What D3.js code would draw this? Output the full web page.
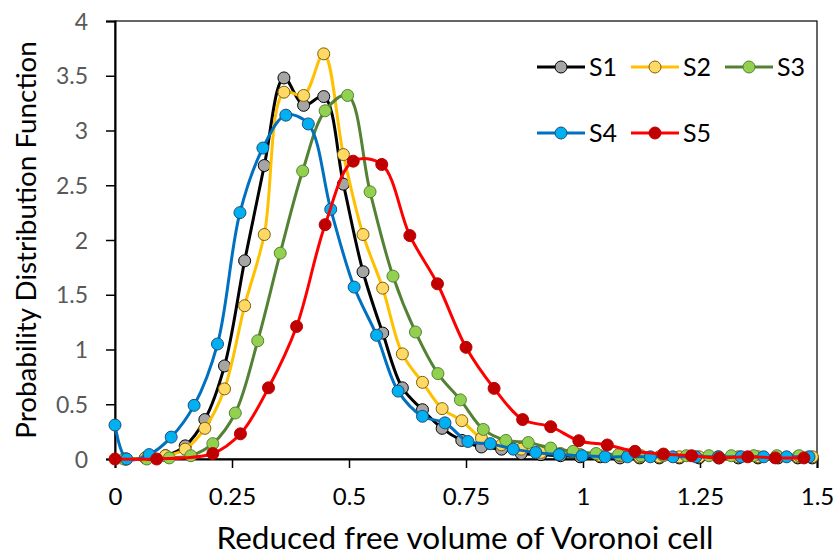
<!DOCTYPE html>
<html><head><meta charset="utf-8">
<script src="https://cdn.jsdelivr.net/npm/d3@7"></script>
<style>body{margin:0;background:#fff}svg{display:block}</style>
</head><body>
<svg id="c" width="839" height="556"></svg>
<script>
const xTicks = [0, 0.25, 0.5, 0.75, 1, 1.25, 1.5];
const yTicks = [0, 0.5, 1, 1.5, 2, 2.5, 3, 3.5, 4];
const seriesNames = ["S1", "S2", "S3", "S4", "S5"];

const s1x = [0.023,0.065,0.108,0.150,0.192,0.234,0.277,0.319,0.361,0.403,0.446,0.488,0.530,0.572,0.614,0.657,0.699,0.741,0.783,0.826,0.868,0.910,0.952,0.994,1.037,1.079,1.121,1.163,1.206,1.248,1.290,1.332,1.374,1.417,1.459,1.490];
const s1y = [0.00,0.01,0.03,0.12,0.36,0.85,1.81,2.68,3.48,3.23,3.31,2.51,1.71,1.15,0.65,0.45,0.28,0.17,0.11,0.09,0.05,0.04,0.03,0.02,0.02,0.01,0.01,0.01,0.01,0.01,0.01,0.01,0.01,0.01,0.01,0.01];
const s2x = s1x;
const s2y = [0.00,0.01,0.03,0.09,0.28,0.64,1.40,2.05,3.35,3.32,3.70,2.78,2.05,1.56,0.96,0.70,0.46,0.35,0.19,0.13,0.09,0.06,0.05,0.04,0.03,0.03,0.02,0.02,0.02,0.02,0.02,0.02,0.02,0.02,0.02,0.02];
const s3x = [0.019,0.068,0.116,0.162,0.209,0.257,0.305,0.353,0.401,0.449,0.497,0.545,0.594,0.642,0.690,0.738,0.787,0.835,0.883,0.931,0.979,1.028,1.076,1.124,1.172,1.221,1.269,1.317,1.365,1.414,1.462];
const s3y = [0.00,0.00,0.01,0.03,0.14,0.42,1.08,1.88,2.63,3.18,3.32,2.44,1.67,1.16,0.78,0.54,0.27,0.17,0.15,0.10,0.07,0.05,0.04,0.03,0.03,0.03,0.03,0.03,0.03,0.03,0.03];
const s4x = [0,0.025,0.073,0.120,0.169,0.219,0.267,0.316,0.365,0.413,0.461,0.511,0.559,0.605,0.657,0.705,0.754,0.802,0.851,0.899,0.949,0.998,1.047,1.095,1.144,1.192,1.241,1.289,1.338,1.386,1.435,1.483];
const s4y = [0.31,0.00,0.04,0.20,0.49,1.05,2.25,2.84,3.14,3.06,2.28,1.57,1.13,0.62,0.39,0.33,0.16,0.14,0.09,0.06,0.04,0.03,0.02,0.02,0.02,0.02,0.02,0.02,0.02,0.02,0.02,0.02];
const s5x = [0,0.089,0.209,0.268,0.328,0.388,0.449,0.509,0.570,0.630,0.689,0.750,0.810,0.871,0.931,0.991,1.052,1.111,1.172,1.232,1.291,1.352,1.411,1.472];
const s5y = [0.00,0.00,0.05,0.23,0.65,1.21,2.14,2.72,2.69,2.04,1.60,1.02,0.645,0.36,0.295,0.167,0.128,0.07,0.045,0.03,0.01,0.02,0.01,0.01];

const lineColors = ["#000000", "#FFC000", "#548235", "#0070C0", "#FF0000"];
const fillColors = ["#A5A5A5", "#FFD966", "#92D050", "#00B0F0", "#C00000"];
const edgeColors = ["#000000", "#7F6000", "#548235", "#1F4E79", "#C00000"];

const xs = [s1x, s2x, s3x, s4x, s5x];
const ys = [s1y, s2y, s3y, s4y, s5y];

const svg = d3.select("#c");
const x = d3.scaleLinear().domain([0, 1.5]).range([115, 817]);
const y = d3.scaleLinear().domain([0, 4]).range([459, 21]);
const FONT = "Lato, 'Open Sans', sans-serif";

// plot frame
svg.append("rect").attr("x", 115).attr("y", 21).attr("width", 702).attr("height", 438)
  .attr("fill", "none").attr("stroke", "#000").attr("stroke-width", 1.2);

// axes
const xAxis = d3.axisBottom(x).tickValues(xTicks).tickSize(9).tickFormat(d => d3.format("")(d));
const gx = svg.append("g").attr("transform", "translate(0,459)").call(xAxis);
gx.select(".domain").attr("stroke", "#000").attr("stroke-width", 2);
gx.selectAll(".tick line").attr("stroke", "#000").attr("stroke-width", 1.5);
gx.selectAll(".tick text").attr("font-family", FONT).attr("font-size", 24).attr("fill", "#000")
  .attr("dy", null).attr("y", 46);

const yAxis = d3.axisLeft(y).tickValues(yTicks).tickSize(9).tickFormat(d => d3.format("")(d));
const gy = svg.append("g").attr("transform", "translate(115,0)").call(yAxis);
gy.select(".domain").attr("stroke", "#000").attr("stroke-width", 2);
gy.selectAll(".tick line").attr("stroke", "#000").attr("stroke-width", 1.5);
gy.selectAll(".tick text").attr("font-family", FONT).attr("font-size", 23).attr("fill", "#595959")
  .attr("x", -27).attr("dy", "0.35em");

// axis titles
svg.append("text").attr("x", 465).attr("y", 549).attr("text-anchor", "middle")
  .attr("font-family", FONT).attr("font-size", 31.5).attr("fill", "#000")
  .text("Reduced free volume of Voronoi cell");
svg.append("text").attr("transform", "translate(36,240) rotate(-90)").attr("text-anchor", "middle")
  .attr("font-family", FONT).attr("font-size", 27.8).attr("fill", "#000")
  .text("Probability Distribution Function");

// series
const line = d3.line().x(d => x(d[0])).y(d => y(d[1])).curve(d3.curveCatmullRom.alpha(0.5));
seriesNames.forEach((name, i) => {
  const pts = xs[i].map((v, k) => [v, ys[i][k]]);
  const g = svg.append("g");
  g.append("path").attr("d", line(pts)).attr("fill", "none")
    .attr("stroke", lineColors[i]).attr("stroke-width", 3);
  g.selectAll("circle").data(pts).join("circle")
    .attr("cx", d => x(d[0])).attr("cy", d => y(d[1])).attr("r", 6)
    .attr("fill", fillColors[i]).attr("stroke", edgeColors[i]).attr("stroke-width", 1);
});

// legend
const legPos = [[537, 67], [631, 67], [725, 67], [537, 133], [631, 133]];
seriesNames.forEach((name, i) => {
  const [lx, ly] = legPos[i];
  const g = svg.append("g");
  g.append("line").attr("x1", lx).attr("x2", lx + 48).attr("y1", ly).attr("y2", ly)
    .attr("stroke", lineColors[i]).attr("stroke-width", 3);
  g.append("circle").attr("cx", lx + 24).attr("cy", ly).attr("r", 6)
    .attr("fill", fillColors[i]).attr("stroke", edgeColors[i]).attr("stroke-width", 1);
  g.append("text").attr("x", lx + 52).attr("y", ly).attr("dy", "0.36em")
    .attr("font-family", FONT).attr("font-size", 25).attr("fill", "#000").text(name);
});
</script>
</body></html>
